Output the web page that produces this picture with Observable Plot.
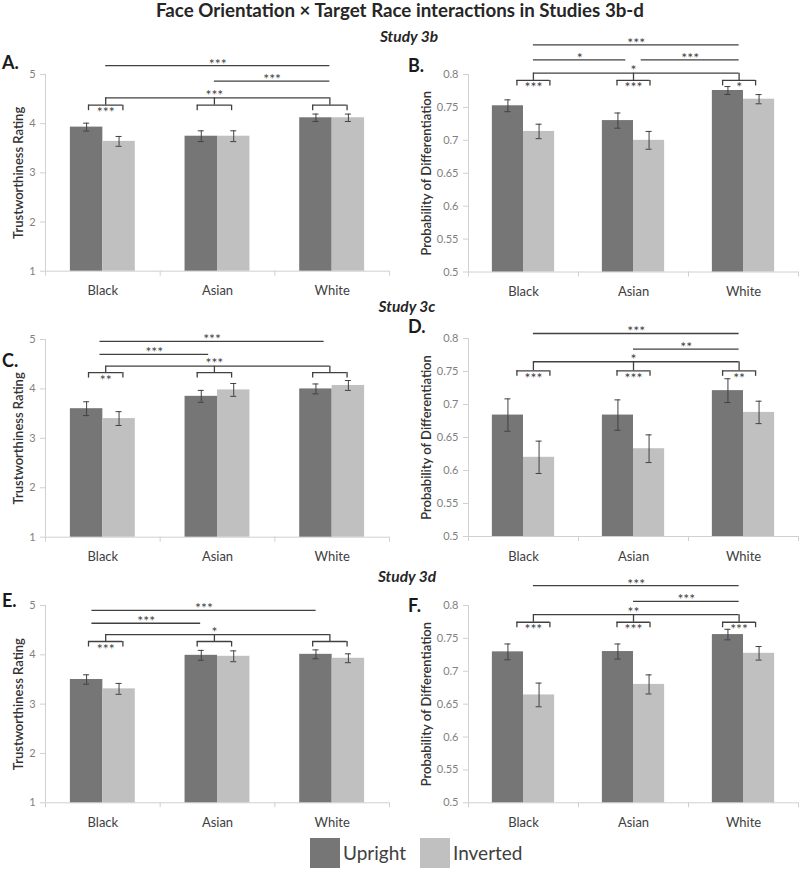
<!DOCTYPE html>
<html>
<head>
<meta charset="utf-8">
<script src="https://cdn.jsdelivr.net/npm/d3@7"></script>
<script src="https://cdn.jsdelivr.net/npm/@observablehq/plot@0.6"></script>
<style>
  body { margin: 0; background: #fff; }
  #fig { position: relative; width: 800px; height: 870px; overflow: hidden;
         font-family: Lato, "Open Sans", sans-serif; color: #404040; background: #fff; }
  .abs { position: absolute; white-space: nowrap; line-height: 1; display: inline-block; }
  .title { font-weight: 700; color: #262626; }
  .study { font-weight: 700; font-style: italic; color: #262626; }
  .letter { font-weight: 700; color: #1a1a1a; }
  .panel { position: absolute; }
  .lg-swatch > svg { margin-right: 3px !important; }
  .lg-swatch { margin-right: 14px !important; }
</style>
</head>
<body>
<div id="fig"></div>
<script>
// ---------------- DATA ----------------
const races = ["Black", "Asian", "White"];
const conditions = ["Upright", "Inverted"];
const trustTicks = [1, 2, 3, 4, 5];
const probTicks = [0.5, 0.55, 0.6, 0.65, 0.7, 0.75, 0.8];

// Study 3b
const A_upright = [3.93, 3.745, 4.12];
const A_uprightSE = [0.08, 0.11, 0.075];
const A_inverted = [3.64, 3.745, 4.12];
const A_invertedSE = [0.10, 0.11, 0.075];
const A_comparisons = [["Black", "White", "***"], ["Asian", "White", "***"]];
const A_interaction = "***";
const A_withinRace = ["***", "", ""];

const B_upright = [0.7525, 0.730, 0.7757];
const B_uprightSE = [0.009, 0.0115, 0.006];
const B_inverted = [0.7135, 0.700, 0.7625];
const B_invertedSE = [0.011, 0.0135, 0.007];
const B_comparisons = [["Black", "White", "***"], ["Black", "Asian", "*"], ["Asian", "White", "***"]];
const B_interaction = "*";
const B_withinRace = ["***", "***", "*"];

// Study 3c
const C_upright = [3.60, 3.85, 4.00];
const C_uprightSE = [0.14, 0.12, 0.10];
const C_inverted = [3.40, 3.98, 4.07];
const C_invertedSE = [0.14, 0.13, 0.10];
const C_comparisons = [["Black", "White", "***"], ["Black", "Asian", "***"]];
const C_interaction = "***";
const C_withinRace = ["**", "", ""];

const D_upright = [0.684, 0.684, 0.721];
const D_uprightSE = [0.0245, 0.023, 0.018];
const D_inverted = [0.620, 0.633, 0.688];
const D_invertedSE = [0.0245, 0.021, 0.017];
const D_comparisons = [["Black", "White", "***"], ["Asian", "White", "**"]];
const D_interaction = "*";
const D_withinRace = ["***", "***", "**"];

// Study 3d
const E_upright = [3.50, 3.99, 4.01];
const E_uprightSE = [0.095, 0.10, 0.09];
const E_inverted = [3.31, 3.97, 3.93];
const E_invertedSE = [0.11, 0.11, 0.09];
const E_comparisons = [["Black", "White", "***"], ["Black", "Asian", "***"]];
const E_interaction = "*";
const E_withinRace = ["***", "", ""];

const F_upright = [0.7295, 0.730, 0.7558];
const F_uprightSE = [0.012, 0.0115, 0.008];
const F_inverted = [0.664, 0.680, 0.7273];
const F_invertedSE = [0.018, 0.0145, 0.0103];
const F_comparisons = [["Black", "White", "***"], ["Asian", "White", "***"]];
const F_interaction = "**";
const F_withinRace = ["***", "***", "***"];

const titleText = "Face Orientation × Target Race interactions in Studies 3b-d";
const studyLabels = ["Study 3b", "Study 3c", "Study 3d"];
const trustLabel = "Trustworthiness Rating";
const probLabel = "Probability of Differentiation";

// ---------------- STYLE / LAYOUT ----------------
const colors = ["#767676", "#c0c0c0"];
const ink = "#404040";
const axisGray = "#d0d0d0";
const fontFamily = "Lato, 'Open Sans', sans-serif";

const leftCol = {left: 0, width: 400, ml: 45, mr: 11, shift: [0.025, -0.027, -0.02], yLabelDx: -27};
const rightCol = {left: 400, width: 400, ml: 68, mr: 2, shift: [0.09, 0, -0.04], yLabelDx: -41.5};

const panels = [
  {letter: "A.", lx: 2, ly: 69.3, col: leftCol, yTop: 74, yBot: 270.7, domain: [1, 5], ticks: trustTicks, ylabel: trustLabel,
   d: {up: A_upright, upSE: A_uprightSE, inv: A_inverted, invSE: A_invertedSE, comparisons: A_comparisons, interaction: A_interaction, within: A_withinRace},
   rows: [5.18, 4.864], big: 4.526, small: 4.376, lineShift: 0},
  {letter: "B.", lx: 408, ly: 71.5, col: rightCol, yTop: 74, yBot: 271.5, domain: [0.5, 0.8], ticks: probTicks, ylabel: probLabel,
   d: {up: B_upright, upSE: B_uprightSE, inv: B_inverted, invSE: B_invertedSE, comparisons: B_comparisons, interaction: B_interaction, within: B_withinRace},
   rows: [0.845, 0.8223, 0.8223], big: 0.802, small: 0.791, lineShift: 0},
  {letter: "C.", lx: 2, ly: 367, col: leftCol, yTop: 339, yBot: 536.7, domain: [1, 5], ticks: trustTicks, ylabel: trustLabel,
   d: {up: C_upright, upSE: C_uprightSE, inv: C_inverted, invSE: C_invertedSE, comparisons: C_comparisons, interaction: C_interaction, within: C_withinRace},
   rows: [4.96, 4.70], big: 4.46, small: 4.33, lineShift: -0.05},
  {letter: "D.", lx: 408, ly: 333, col: rightCol, yTop: 338, yBot: 536, domain: [0.5, 0.8], ticks: probTicks, ylabel: probLabel,
   d: {up: D_upright, upSE: D_uprightSE, inv: D_inverted, invSE: D_invertedSE, comparisons: D_comparisons, interaction: D_interaction, within: D_withinRace},
   rows: [0.8076, 0.784], big: 0.7648, small: 0.751, lineShift: 0},
  {letter: "E.", lx: 2, ly: 606.5, col: leftCol, yTop: 605, yBot: 802.3, domain: [1, 5], ticks: trustTicks, ylabel: trustLabel,
   d: {up: E_upright, upSE: E_uprightSE, inv: E_inverted, invSE: E_invertedSE, comparisons: E_comparisons, interaction: E_interaction, within: E_withinRace},
   rows: [4.90, 4.64], big: 4.41, small: 4.27, lineShift: -0.12},
  {letter: "F.", lx: 408, ly: 611.5, col: rightCol, yTop: 605, yBot: 802.3, domain: [0.5, 0.8], ticks: probTicks, ylabel: probLabel,
   d: {up: F_upright, upSE: F_uprightSE, inv: F_inverted, invSE: F_invertedSE, comparisons: F_comparisons, interaction: F_interaction, within: F_withinRace},
   rows: [0.8302, 0.8064], big: 0.786, small: 0.7745, lineShift: 0}
];

const fig = document.getElementById("fig");
const MT = 50, MB = 32;

// place an HTML text so that its baseline sits at `baseline`; optional fit to a target width
function addText(cls, text, fs, baseline, opts = {}) {
  const el = document.createElement("span");
  el.className = "abs " + cls;
  el.textContent = text;
  el.style.fontSize = fs + "px";
  fig.appendChild(el);
  if (opts.fitWidth) {
    const w0 = el.getBoundingClientRect().width;
    fs = fs * opts.fitWidth / w0;
    el.style.fontSize = fs + "px";
  }
  // line-height 1 with Lato metrics (ascent 0.987em, descent 0.213em)
  const baseInBox = 0.887 * fs;
  el.style.top = Math.max(0, baseline - baseInBox) + "px";
  const w = el.getBoundingClientRect().width;
  if (opts.center != null) el.style.left = (opts.center - w / 2) + "px";
  else el.style.left = opts.left + "px";
  return el;
}

function makePanel(P) {
  const C = P.col, d = P.d;
  const [ymin, ymax] = P.domain;
  const plotH = P.yBot - P.yTop;
  const plotW = C.width - C.ml - C.mr;
  const ky = (ymax - ymin) / plotH;   // data units per pixel (y)
  const kx = 3 / plotW;               // data units per pixel (x)
  const bw = 0.283;
  const bars = races.flatMap((r, i) => [
    {race: r, cond: conditions[0], v: d.up[i], se: d.upSE[i], x1: i + 0.5 - bw, x2: i + 0.5},
    {race: r, cond: conditions[1], v: d.inv[i], se: d.invSE[i], x1: i + 0.5, x2: i + 0.5 + bw}
  ]);
  const cap = 3 * kx;
  const anchor = i => i + 0.5 + C.shift[i];
  const hw = 0.15, gap = 0.07, drop = 5.5 * ky;

  const compLines = d.comparisons.map(([a, b, lab], k) => {
    const ia = races.indexOf(a), ib = races.indexOf(b);
    const y = P.rows[k];
    let x1 = anchor(ia) + P.lineShift, x2 = anchor(ib) + P.lineShift;
    const shared = d.comparisons.some((c, j) => j !== k && P.rows[j] === y);
    if (shared) { if (ia === 1) x1 += gap; if (ib === 1) x2 -= gap; }
    return {x1, x2, y, label: lab};
  });
  const brackets = races.map((r, i) => ({c: anchor(i), label: d.within[i]}));
  const starStyle = {fill: ink, fontSize: 14, fontFamily, lineAnchor: "bottom", textAnchor: "middle"};

  const svg = Plot.plot({
    width: C.width,
    height: MT + plotH + MB,
    marginLeft: C.ml, marginRight: C.mr, marginTop: MT, marginBottom: MB,
    style: {background: "transparent", overflow: "visible", fontFamily, fontSize: "11px", color: "#7f7f7f"},
    x: {type: "linear", domain: [0, 3], axis: null},
    y: {domain: P.domain, ticks: P.ticks, tickFormat: v => String(v), tickSize: 0, tickPadding: 10, label: null},
    color: {domain: conditions, range: colors},
    marks: [
      // axes lines & tick marks
      Plot.ruleY([ymin], {x1: 0, x2: 3, stroke: axisGray}),
      Plot.ruleX([0], {y1: ymin, y2: ymax, stroke: axisGray}),
      Plot.ruleY(P.ticks, {y: v => v, x1: -5 * kx, x2: 0, stroke: axisGray}),
      Plot.ruleX([0, 1, 2, 3], {x: v => v, y1: ymin, y2: ymin - 5 * ky, stroke: axisGray}),
      // bars
      Plot.rect(bars, {x1: "x1", x2: "x2", y1: () => ymin, y2: "v", fill: "cond"}),
      // error bars
      Plot.ruleX(bars, {x: b => (b.x1 + b.x2) / 2, y1: b => b.v - b.se, y2: b => b.v + b.se, stroke: ink, strokeWidth: 1}),
      Plot.ruleY(bars, {y: b => b.v + b.se, x1: b => (b.x1 + b.x2) / 2 - cap, x2: b => (b.x1 + b.x2) / 2 + cap, stroke: ink, strokeWidth: 1}),
      Plot.ruleY(bars, {y: b => b.v - b.se, x1: b => (b.x1 + b.x2) / 2 - cap, x2: b => (b.x1 + b.x2) / 2 + cap, stroke: ink, strokeWidth: 1}),
      // category labels
      Plot.text(races, {x: (r, i) => i + 0.5, y: () => ymin, text: r => r, dy: 24, lineAnchor: "bottom", fill: ink, fontSize: 13, fontFamily}),
      // y-axis title
      Plot.text([P.ylabel], {frameAnchor: "left", dx: C.yLabelDx, rotate: -90, textAnchor: "middle", lineAnchor: "middle",
        text: t => t, fill: "#333", fontSize: 13, fontWeight: 600, fontFamily}),
      // pairwise comparison lines
      Plot.ruleY(compLines, {x1: "x1", x2: "x2", y: "y", stroke: ink, strokeWidth: 1.3}),
      Plot.text(compLines, {x: l => (l.x1 + l.x2) / 2, y: "y", text: "label", dy: 3, ...starStyle}),
      // interaction bracket
      Plot.ruleY([0], {x1: () => anchor(0), x2: () => anchor(2), y: () => P.big, stroke: ink, strokeWidth: 1.3}),
      Plot.ruleX(brackets, {x: "c", y1: () => P.big, y2: () => P.small, stroke: ink, strokeWidth: 1.3}),
      Plot.ruleY(brackets, {x1: b => b.c - hw, x2: b => b.c + hw, y: () => P.small, stroke: ink, strokeWidth: 1.3}),
      Plot.ruleX(brackets, {x: b => b.c - hw, y1: () => P.small, y2: () => P.small - drop, stroke: ink, strokeWidth: 1.3}),
      Plot.ruleX(brackets, {x: b => b.c + hw, y1: () => P.small, y2: () => P.small - drop, stroke: ink, strokeWidth: 1.3}),
      Plot.text(brackets, {x: "c", y: () => P.small, text: "label", dy: 12, ...starStyle}),
      Plot.text([d.interaction], {x: () => anchor(1), y: () => P.big, text: t => t, dy: 2, ...starStyle})
    ]
  });
  const wrap = document.createElement("div");
  wrap.className = "panel";
  wrap.style.left = C.left + "px";
  wrap.style.top = (P.yTop - MT) + "px";
  wrap.appendChild(svg);
  fig.appendChild(wrap);

  addText("letter", P.letter, 18, P.ly, {left: P.lx});
}

panels.forEach(makePanel);

// title and study headings
addText("title", titleText, 16, 17.5, {center: 400, fitWidth: 488});
addText("study", studyLabels[0], 15.5, 42.5, {center: 409});
addText("study", studyLabels[1], 15.5, 313, {center: 407});
addText("study", studyLabels[2], 15.5, 583, {center: 407});

// legend
const legend = Plot.legend({
  color: {domain: conditions, range: colors},
  legend: "swatches",
  swatchSize: 30,
  className: "lg",
  style: {fontFamily, fontSize: "19px", color: ink, background: "transparent"}
});
const lw = document.createElement("div");
lw.className = "panel";
lw.style.left = "310px";
lw.style.top = "836px";
lw.appendChild(legend);
fig.appendChild(lw);
</script>
</body>
</html>
